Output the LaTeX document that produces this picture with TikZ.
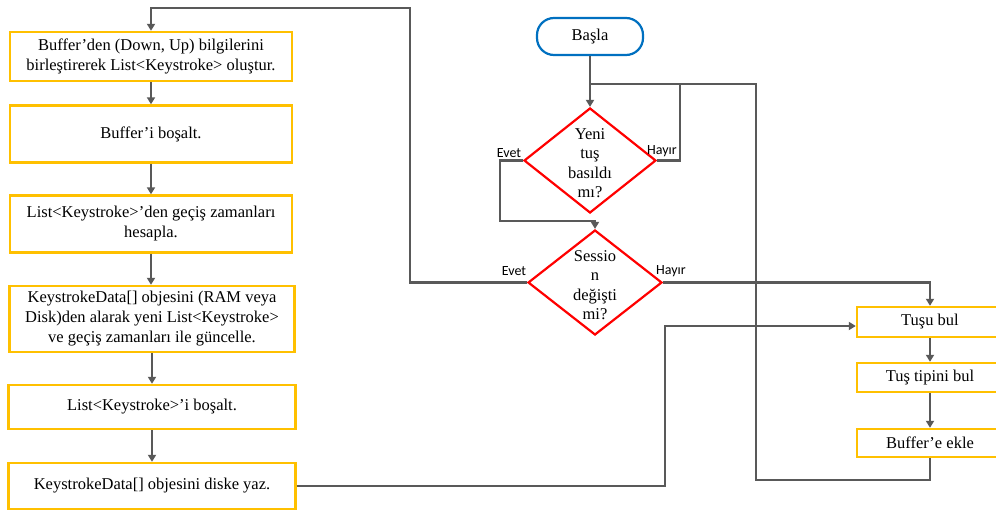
\documentclass[tikz,border=0pt]{standalone}
\usepackage{fontspec}
\setmainfont{Liberation Serif}
\newfontfamily\lblfont{Carlito}
\usetikzlibrary{arrows.meta,shapes.geometric,calc}
\definecolor{linegray}{HTML}{595959}
\definecolor{boxyellow}{HTML}{FFC000}
\definecolor{startblue}{HTML}{0070C0}
\tikzset{
  procbox/.style={draw=boxyellow,line width=2.4pt,fill=white,align=center,inner sep=0pt,font=\fontsize{16.5}{20}\selectfont},
  startbox/.style={draw=startblue,line width=2.2pt,rounded corners=17pt,align=center,inner sep=0pt,font=\fontsize{16.5}{20}\selectfont},
  decbox/.style={draw=red,line width=2.2pt,diamond,inner sep=0pt},
  dectext/.style={align=center,font=\fontsize{16.5}{19.5}\selectfont},
  conn/.style={draw=linegray,line width=2.5pt},
  arr/.style={conn,-{Triangle[length=7pt,width=8pt]}},
  lbl/.style={font=\lblfont\fontsize{14}{15}\selectfont,inner sep=0pt}
}
\begin{document}
\begin{tikzpicture}[x=1pt,y=-1pt]
\useasboundingbox (0,0) rectangle (996,511);
\clip (0,0) rectangle (996,511);
% left column
\node[procbox,minimum width=282pt,minimum height=49pt] (b1) at (151,56.5) {Buffer’den (Down, Up) bilgilerini\\birleştirerek List<Keystroke> oluştur.};
\node[procbox,minimum width=282pt,minimum height=57pt] (b2) at (151,134) {Buffer’i boşalt.};
\node[procbox,minimum width=282pt,minimum height=57pt] (b3) at (151,224) {List<Keystroke>’den geçiş zamanları\\hesapla.};
\node[procbox,minimum width=285pt,minimum height=66pt] (b4) at (152,319) {KeystrokeData[] objesini (RAM veya\\Disk)den alarak yeni List<Keystroke>\\ve geçiş zamanları ile güncelle.};
\node[procbox,minimum width=287pt,minimum height=44pt] (b5) at (152,407) {List<Keystroke>’i boşalt.};
\node[procbox,minimum width=287pt,minimum height=46pt] (b6) at (152,486) {KeystrokeData[] objesini diske yaz.};
% start and decisions
\node[startbox,minimum width=106pt,minimum height=37pt] (basla) at (590,36.5) {Başla};
\node[decbox,minimum width=132pt,minimum height=105pt] (d1) at (590,160.5) {};
\node[dectext] (d1t) at (590,163) {Yeni\\tuş\\basıldı\\mı?};
\node[decbox,minimum width=134pt,minimum height=105pt] (d2) at (595,282.5) {};
\node[dectext] (d2t) at (595,285) {Sessio\\n\\değişti\\mi?};
% right column
\node[procbox,minimum width=146pt,minimum height=30pt] (tusu) at (930,322) {Tuşu bul};
\node[procbox,minimum width=146pt,minimum height=29pt] (tip) at (930,377.5) {Tuş tipini bul};
\node[procbox,minimum width=146pt,minimum height=28pt] (ekle) at (930,443) {Buffer’e ekle};
% labels
\node[lbl] (e1) at (509,153) {Evet};
\node[lbl] (h1) at (662,151) {Hayır};
\node[lbl] (e2) at (514,271) {Evet};
\node[lbl] (h2) at (671,271) {Hayır};
% coordinates
\coordinate (j) at (590,84);
% connectors
\draw[arr] (basla.south) -- (d1.north);
\draw[conn] (d1.east) -- (680,160.5) |- (j);
\draw[conn] (ekle.south) -- (930,480) -| (756,84) -- (j);
\draw[arr] (d1.west) -- (500,160.5) |- (595,221) -- (d2.north);
\draw[arr] (d2.west) -- (410,282.5) |- (151,8) -- (b1.north);
\draw[arr] (d2.east) -| (tusu.north);
\draw[arr] (b6.east) -- (665,486) |- ([yshift=-4pt]tusu.west);
\draw[arr] (b1.south) -- (b1.south |- b2.north);
\draw[arr] (b2.south) -- (b2.south |- b3.north);
\draw[arr] (b3.south) -- (b3.south |- b4.north);
\draw[arr] (b4.south) -- (b4.south |- b5.north);
\draw[arr] (b5.south) -- (b5.south |- b6.north);
\draw[arr] (tusu.south) -- (tip.north);
\draw[arr] (tip.south) -- (ekle.north);
\end{tikzpicture}
\end{document}
